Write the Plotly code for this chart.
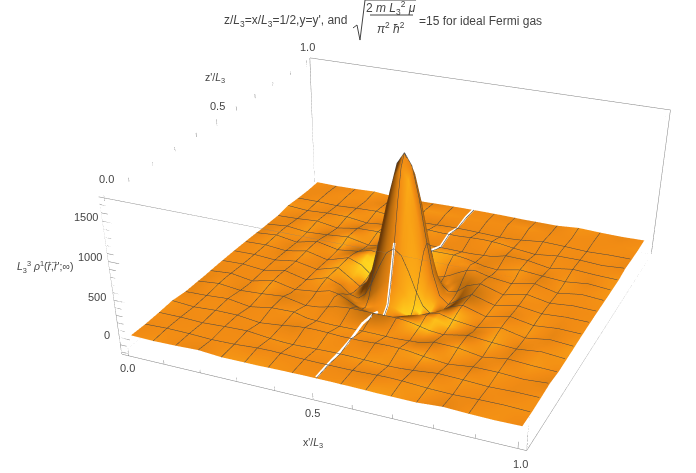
import numpy as np
import plotly.graph_objects as go

offsets = [0, .02, .04, .06, .08, .10, .125, .15, .1875, .25, .3125, .375, .4375, .5]
quadrant = [
    [1764, 1612, 1212, 702, 243, -51, -150, -64, 59, -29, 30, -14, 6, 0],
    [1612, 1470, 1094, 624, 200, -66, -146, -58, 60, -29, 28, -14, 6, 0],
    [1212, 1094, 790, 412, 82, -107, -139, -39, 61, -31, 32, -16, 6, 0],
    [702, 624, 412, 159, -51, -142, -115, -11, 61, -33, 38, -20, 8, -2],
    [243, 200, 82, -51, -131, -145, -72, 23, 55, -34, 42, -22, 10, -2],
    [-51, -66, -107, -142, -145, -103, -17, 50, 41, -32, 44, -26, 14, -4],
    [-150, -146, -139, -115, -72, -17, 41, 61, 13, -24, 40, -30, 18, -6],
    [-64, -58, -39, -11, 23, 50, 61, 42, -16, -18, 30, -28, 22, -10],
    [59, 60, 61, 61, 55, 41, 13, -16, -33, 30, 2, -16, 18, -10],
    [-29, -29, -31, -33, -34, -32, -24, -18, 30, 22, -30, 18, -2, -12],
    [30, 28, 32, 38, 42, 44, 40, 30, 2, -30, 8, 8, -10, 12],
    [-14, -14, -16, -20, -22, -26, -30, -28, -16, 18, 8, -8, 2, 0],
    [6, 6, 6, 8, 10, 14, 18, 22, 18, -2, -10, 2, 6, -6],
    [0, 0, 0, -2, -2, -4, -6, -10, -10, -12, 12, 0, -6, 0],
]
x_min, x_max = -.02, 1.02
z_min, z_max = -230, 1790

tear_y = [0, .0625, .125, .1875, .25, .3125, .34, None, .375, .40, .44, None, .66, .6875, .75, .8125, .875, .9375, 1]
tear_z = [15, 21, 15, 29, 74, 45, 10, None, -135, -36, 717, None, -2, 74, -14, 45, -14, 21, 15]

tick_minor = [i / 10 for i in range(11)]
tick_val = list(range(-200, 1800, 100))

idx = list(range(13, 0, -1)) + list(range(14))
grid = [0.5 - offsets[i] for i in range(13, 0, -1)] + [0.5 + o for o in offsets]
surf = np.array(quadrant, dtype=float)[np.ix_(idx, idx)]

# the scene is larger than the window so the perspective matches the reference
page_w, page_h = 786, 1068
aspect_z = .388


def px(a):
    return a / page_w


def py(b):
    return 1 - b / page_h


def label(text, a, b, size=11):
    return dict(text=text, x=px(a), y=py(b), xref="paper", yref="paper", showarrow=False,
                xanchor="center", yanchor="middle", font=dict(size=size, color="#444444"))


# shading of the surface, one light from the front right
k = 1.25 * aspect_z / (z_max - z_min) * (x_max - x_min)
dzdy, dzdx = np.gradient(surf, grid, grid)
nx, ny = -k * dzdx, -k * dzdy
light = np.array([.45, -.55, .70])
light = light / np.linalg.norm(light)
shade = (nx * light[0] + ny * light[1] + light[2]) / np.sqrt(nx ** 2 + ny ** 2 + 1) / light[2]

axis = dict(visible=False, showbackground=False, showgrid=False, zeroline=False, showspikes=False,
            showline=False, ticks="", showticklabels=False, title=dict(text=""))

# box edges
bx, by, bz = [], [], []
for a in (x_min, x_max):
    for b in (x_min, x_max):
        level = z_min if b == x_min else z_max
        bx += [a, a, None, a, a, None, x_min, x_max, None]
        by += [b, b, None, x_min, x_max, None, a, a, None]
        bz += [z_min, z_max, None, level, level, None, level, level, None]

# tick marks along the reference edges
tx, ty, tz = [], [], []
for v in tick_minor:
    major = v in (0.0, 0.5, 1.0)
    tx += [v, v, None]
    ty += [x_min, x_min, None]
    tz += [z_min, z_min + (90 if major else 55), None]
    tx += [x_min, x_min, None]
    ty += [v, v, None]
    tz += [z_max, z_max - (90 if major else 55), None]
for v in tick_val:
    major = v % 500 == 0
    tx += [x_min, x_min + (.03 if major else .018), None]
    ty += [x_min, x_min, None]
    tz += [v, v, None]

fig = go.Figure()
fig.add_trace(go.Surface(
    x=grid, y=grid, z=surf, surfacecolor=shade, cmin=.2, cmax=1.4, showscale=False, hoverinfo="skip",
    colorscale=[[0, "#6B3A08"], [.4, "#C0700F"], [.667, "#F28C14"], [.83, "#FBAA16"], [1, "#FFD820"]],
    lighting=dict(ambient=1, diffuse=0, specular=0, roughness=1, fresnel=0),
    contours=dict(
        x=dict(show=True, start=.0625, end=.9375, size=.0625, color="#444444", width=1),
        y=dict(show=True, start=.0625, end=.9375, size=.0625, color="#444444", width=1),
    ),
))
fig.add_trace(go.Scatter3d(x=[.5] * len(tear_y), y=tear_y, z=tear_z, mode="lines",
                           line=dict(color="white", width=5), hoverinfo="skip", showlegend=False))
fig.add_trace(go.Scatter3d(x=bx + tx, y=by + ty, z=bz + tz, mode="lines",
                           line=dict(color="#808080", width=1), hoverinfo="skip", showlegend=False))

L3 = "<i>L</i><sub>3</sub>"
annotations = [
    label(f"z/{L3}=x/{L3}=1/2,y=y', and", 285, 21, 12),
    label("=15 for ideal Fermi gas", 480, 21, 12),
    label("2 <i>m L</i><sub>3</sub><sup>2</sup> <i>μ</i>", 391, 8, 12),
    label("<i>π</i><sup>2</sup> <i>ħ</i><sup>2</sup>", 391, 28, 12),
    label("0.0", 127, 368), label("0.5", 312, 413), label("1.0", 520, 464),
    label(f"x'/{L3}", 313, 443, 10.5),
    label("0.0", 106, 179), label("0.5", 218, 106), label("1.0", 307, 47),
    label(f"z'/{L3}", 215, 78, 10.5),
    label("1500", 86, 217), label("1000", 90, 257), label("500", 97, 297), label("0", 107, 335),
    label(f"{L3}<sup>3</sup> <i>ρ</i><sup>1</sup>(<i>r</i>\u20d7,<i>r</i>\u20d7';∞)", 45, 267, 10.5),
]

radical = [(353, 28), (357, 25), (360, 40), (365, 0), (416, 0)]
path = "M " + " L ".join(f"{px(a):.4f},{py(b):.4f}" for a, b in radical)
shapes = [
    dict(type="path", path=path, xref="paper", yref="paper", line=dict(color="#444444", width=1)),
    dict(type="line", x0=px(370), x1=px(413), y0=py(15), y1=py(15), xref="paper", yref="paper",
         line=dict(color="#444444", width=1)),
]

fig.update_layout(
    width=page_w, height=page_h, margin=dict(l=0, r=0, t=0, b=0), paper_bgcolor="white",
    font=dict(family="Liberation Sans", color="#444444"),
    annotations=annotations, shapes=shapes,
    scene=dict(
        domain=dict(x=[0, 1], y=[0, 1]),
        xaxis=dict(axis, range=[x_min, x_max]),
        yaxis=dict(axis, range=[x_min, x_max]),
        zaxis=dict(axis, range=[z_min, z_max]),
        aspectmode="manual", aspectratio=dict(x=1, y=1.017, z=aspect_z),
        camera=dict(eye=dict(x=1.144, y=-2.674, z=1.327),
                    center=dict(x=.149, y=-.406, z=-.598),
                    up=dict(x=0, y=0, z=1)),
    ),
)
fig.write_html("out.html", config=dict(displayModeBar=False),
               post_script="document.body.style.margin = '0';")
